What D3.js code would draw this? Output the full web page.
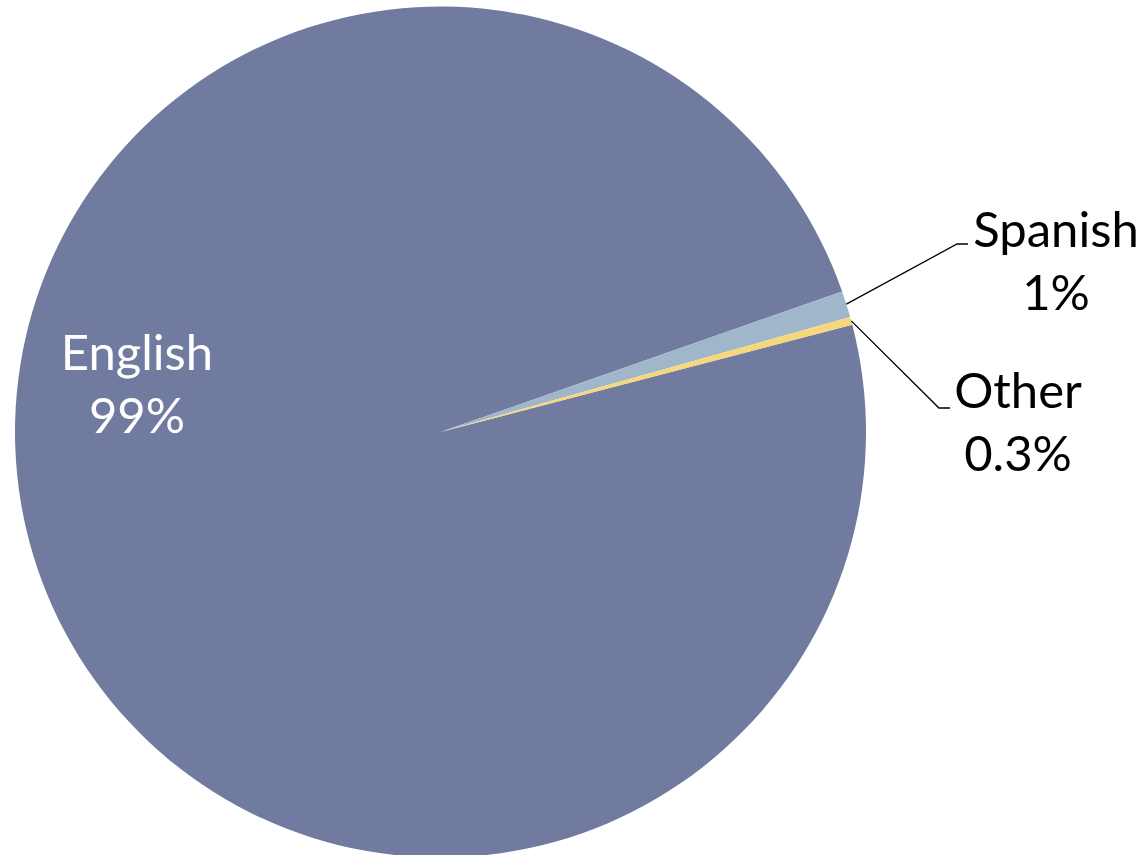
<!DOCTYPE html>
<html>
<head>
<meta charset="utf-8">
<script src="https://cdn.jsdelivr.net/npm/d3@7"></script>
<style>
  html, body { margin: 0; padding: 0; background: #ffffff; }
  svg { display: block; }
  text { font-family: Lato, "Noto Sans", sans-serif; }
</style>
</head>
<body>
<script>
// Language spoken at home, share of respondents (%)
const languages = ["English", "Spanish", "Other"];
const shares = [98.7, 1.0, 0.3];
const shareLabels = ["99%", "1%", "0.3%"];
const sliceColors = ["#717ba0", "#a0b6cb", "#f7d77c"];

const width = 1145, height = 855;
const cx = 440.5, cy = 432, radius = 425.5;
const fontSize = 49;

const svg = d3.select("body").append("svg")
  .attr("width", width)
  .attr("height", height);

const data = languages.map((name, i) => ({ name, value: shares[i], label: shareLabels[i], color: sliceColors[i] }));

// Rotate so the small slices sit just above three o'clock
const start = 75.4 * Math.PI / 180;
const pie = d3.pie()
  .value(d => d.value)
  .sort(null)
  .startAngle(start)
  .endAngle(start + 2 * Math.PI);

const arcs = pie(data);
const arc = d3.arc().innerRadius(0).outerRadius(radius);

const g = svg.append("g").attr("transform", `translate(${cx},${cy})`);

g.selectAll("path.slice")
  .data(arcs)
  .join("path")
  .attr("class", "slice")
  .attr("d", arc)
  .attr("fill", d => d.data.color);

// Point on the rim at a slice's middle angle
function rimPoint(d, r) {
  const a = (d.startAngle + d.endAngle) / 2;
  return [r * Math.sin(a), -r * Math.cos(a)];
}

// Leader lines and labels for the thin slices
const outside = [
  { idx: 1, elbow: [957 - cx, 244 - cy], end: [968 - cx, 244 - cy], text: [1056 - cx, 247 - cy] },
  { idx: 2, elbow: [939 - cx, 408 - cy], end: [950 - cx, 408 - cy], text: [1018 - cx, 408 - cy] }
];

outside.forEach(o => {
  const d = arcs[o.idx];
  const p0 = rimPoint(d, radius);
  g.append("polyline")
    .attr("points", [p0, o.elbow, o.end].map(p => p.join(",")).join(" "))
    .attr("fill", "none")
    .attr("stroke", "#000")
    .attr("stroke-width", 1.3);
  const t = g.append("text")
    .attr("text-anchor", "middle")
    .attr("font-size", fontSize)
    .attr("fill", "#000");
  t.append("tspan").attr("x", o.text[0]).attr("y", o.text[1]).text(d.data.name);
  t.append("tspan").attr("x", o.text[0]).attr("y", o.text[1] + 63).text(d.data.label);
});

// Label inside the large slice
const eng = arcs[0];
const et = g.append("text")
  .attr("text-anchor", "middle")
  .attr("font-size", fontSize)
  .attr("fill", "#ffffff");
et.append("tspan").attr("x", 137 - cx).attr("y", 370 - cy).text(eng.data.name);
et.append("tspan").attr("x", 137 - cx).attr("y", 433 - cy).text(eng.data.label);
</script>
</body>
</html>
